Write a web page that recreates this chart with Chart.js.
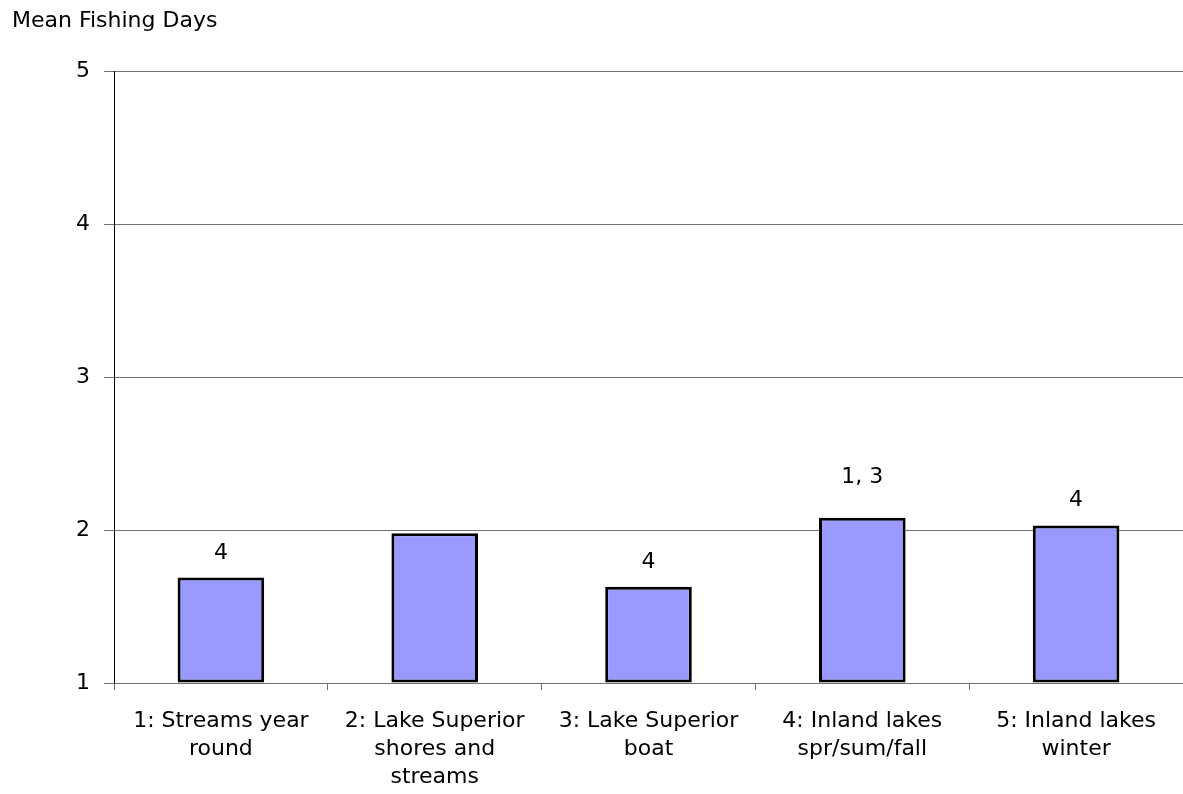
<!DOCTYPE html>
<html>
<head>
<meta charset="utf-8">
<script src="https://cdn.jsdelivr.net/npm/chart.js@4"></script>
<style>
  html, body { margin: 0; padding: 0; background: #fff; }
  #wrap { width: 1183px; height: 794px; }
</style>
</head>
<body>
<div id="wrap"><canvas id="myChart" width="1183" height="794"></canvas></div>
<script>
const categories = [
    ['1: Streams year', 'round'],
    ['2: Lake Superior', 'shores and', 'streams'],
    ['3: Lake Superior', 'boat'],
    ['4: Inland lakes', 'spr/sum/fall'],
    ['5: Inland lakes', 'winter']
];
const meanDays = [1.69, 1.98, 1.63, 2.08, 2.03];
const sigLabels = ['4', '', '4', '1, 3', '4'];
const yTicks = [1, 2, 3, 4, 5];

const FONT = 'DejaVu Sans';

// labels above bars (which groups differ significantly)
const barLabels = {
    id: 'barLabels',
    afterDatasetsDraw(chart) {
        const ctx = chart.ctx;
        const meta = chart.getDatasetMeta(0);
        const lift = [24, 24, 24, 41, 25];
        ctx.save();
        ctx.font = '22px ' + FONT;
        ctx.fillStyle = '#000';
        ctx.textAlign = 'center';
        ctx.textBaseline = 'middle';
        meta.data.forEach((bar, i) => {
            if (!sigLabels[i]) return;
            ctx.fillText(sigLabels[i], bar.x, bar.y - lift[i]);
        });
        ctx.restore();
    }
};

const ctx = document.getElementById('myChart').getContext('2d');
const myChart = new Chart(ctx, {
    type: 'bar',
    data: {
        labels: categories,
        datasets: [{
            data: meanDays,
            base: 1,
            backgroundColor: '#9999FF',
            borderColor: '#000000',
            borderWidth: 3,
            borderSkipped: false,
            barPercentage: 0.405,
            categoryPercentage: 1.0
        }]
    },
    options: {
        responsive: false,
        animation: false,
        layout: { padding: { left: 12, right: 0, top: 0, bottom: 0 } },
        plugins: {
            legend: { display: false },
            tooltip: { enabled: false },
            title: {
                display: true,
                text: 'Mean Fishing Days',
                align: 'start',
                color: '#000',
                font: { family: FONT, size: 22, weight: 'normal' },
                padding: { top: 8, bottom: 37 }
            }
        },
        scales: {
            x: {
                grid: {
                    drawOnChartArea: false,
                    drawTicks: true,
                    tickLength: 7,
                    color: '#707070',
                    offset: true
                },
                border: { color: '#707070', width: 1 },
                ticks: {
                    color: '#000',
                    font: { family: FONT, size: 22, lineHeight: 1.27 },
                    padding: 17,
                    maxRotation: 0,
                    autoSkip: false
                },
                afterFit(scale) { scale.height = 111; }
            },
            y: {
                min: 1,
                max: 5,
                afterBuildTicks(scale) {
                    scale.ticks = yTicks.map(v => ({ value: v }));
                },
                grid: {
                    color: '#707070',
                    lineWidth: 1,
                    drawTicks: true,
                    tickLength: 10
                },
                border: { color: '#000', width: 1 },
                ticks: {
                    color: '#000',
                    font: { family: FONT, size: 22 },
                    padding: 14
                },
                afterFit(scale) { scale.width = 102; }
            }
        }
    },
    plugins: [barLabels]
});
</script>
</body>
</html>
